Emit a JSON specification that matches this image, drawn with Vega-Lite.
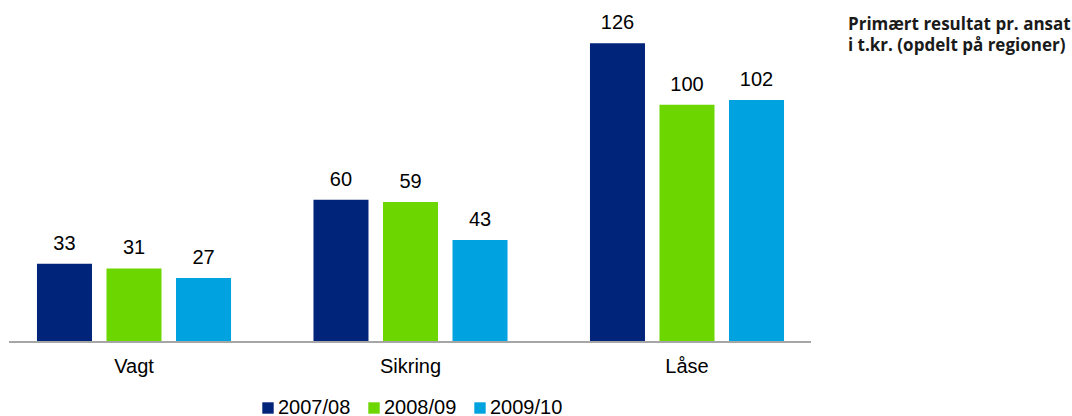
{
  "$schema": "https://vega.github.io/schema/vega-lite/v6.json",
  "width": 802,
  "height": 332,
  "autosize": "none",
  "padding": {"left": 9, "top": 10, "right": 261, "bottom": 74},
  "background": "white",
  "title": {
    "text": ["Primært resultat pr. ansat", "i t.kr. (opdelt på regioner)"],
    "anchor": "start",
    "frame": "group",
    "orient": "top",
    "font": "Open Sans",
    "fontSize": 17,
    "fontWeight": "bold",
    "color": "#1a1a1a",
    "lineHeight": 21,
    "baseline": "top",
    "offset": 0,
    "dx": 839,
    "dy": 45
  },
  "data": {
    "values": [
      {"region": "Vagt", "period": "2007/08", "value": 33},
      {"region": "Vagt", "period": "2008/09", "value": 31},
      {"region": "Vagt", "period": "2009/10", "value": 27},
      {"region": "Sikring", "period": "2007/08", "value": 60},
      {"region": "Sikring", "period": "2008/09", "value": 59},
      {"region": "Sikring", "period": "2009/10", "value": 43},
      {"region": "Låse", "period": "2007/08", "value": 126},
      {"region": "Låse", "period": "2008/09", "value": 100},
      {"region": "Låse", "period": "2009/10", "value": 102}
    ]
  },
  "encoding": {
    "x": {
      "field": "region",
      "type": "nominal",
      "sort": ["Vagt", "Sikring", "Låse"],
      "scale": {"paddingInner": 0, "paddingOuter": 0, "range": [-13.25, 816.25]},
      "axis": {
        "title": null,
        "labelAngle": 0,
        "ticks": false,
        "domain": false,
        "labelFont": "Liberation Sans",
        "labelFontSize": 20,
        "labelColor": "#000000",
        "labelPadding": 14
      }
    },
    "xOffset": {
      "field": "period",
      "type": "nominal",
      "scale": {"paddingInner": 0.2086, "paddingOuter": 0.593}
    },
    "y": {
      "field": "value",
      "type": "quantitative",
      "scale": {"domain": [0, 140], "nice": false},
      "axis": null
    }
  },
  "layer": [
    {
      "mark": {"type": "bar"},
      "encoding": {
        "color": {
          "field": "period",
          "type": "nominal",
          "scale": {
            "domain": ["2007/08", "2008/09", "2009/10"],
            "range": ["#00247A", "#6CD600", "#00A2E0"]
          },
          "legend": {
            "title": null,
            "orient": "none",
            "direction": "horizontal",
            "legendX": 249,
            "legendY": 388,
            "symbolType": "square",
            "symbolSize": 130,
            "symbolStrokeWidth": 0,
            "symbolOpacity": 1,
            "labelFont": "Liberation Sans",
            "labelFontSize": 20,
            "labelColor": "#000000",
            "labelOffset": 0,
            "columnPadding": 13,
            "padding": 0
          }
        }
      }
    },
    {
      "mark": {
        "type": "text",
        "baseline": "alphabetic",
        "dy": -14,
        "font": "Liberation Sans",
        "fontSize": 20,
        "color": "#000000"
      },
      "encoding": {"text": {"field": "value", "type": "quantitative"}}
    },
    {
      "mark": {"type": "rule", "color": "#a6a6a6", "strokeWidth": 2},
      "encoding": {"y": {"datum": 0}, "xOffset": null, "x": null}
    }
  ],
  "config": {"view": {"stroke": null}, "axis": {"grid": false}}
}
